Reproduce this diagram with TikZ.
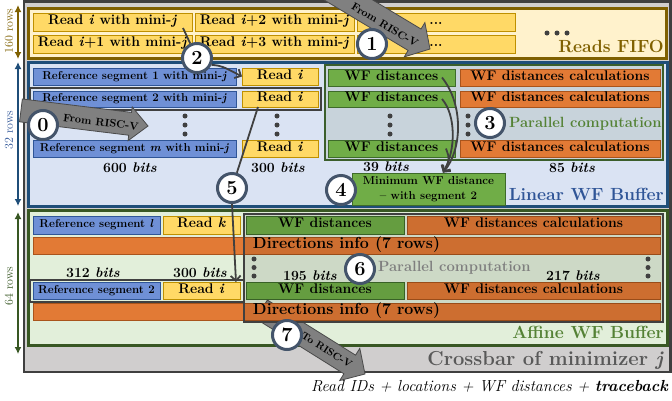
\documentclass[tikz,border=0pt]{standalone}
\usetikzlibrary{arrows.meta}
\definecolor{crossF}{HTML}{D0CECE}\definecolor{crossD}{HTML}{3F3F3F}
\definecolor{fifoF}{HTML}{FFF2CC}\definecolor{fifoD}{HTML}{7F6000}
\definecolor{linF}{HTML}{DAE3F3}\definecolor{linD}{HTML}{1F4E79}
\definecolor{affF}{HTML}{E2EFDA}\definecolor{affD}{HTML}{385723}
\definecolor{yelF}{HTML}{FFD966}\definecolor{yelD}{HTML}{BF9000}
\definecolor{refF}{HTML}{6F90D6}\definecolor{refD}{HTML}{2F5597}
\definecolor{grnF}{HTML}{70AD47}\definecolor{grnD}{HTML}{3E6B2A}
\definecolor{oraF}{HTML}{E27A35}\definecolor{oraD}{HTML}{A9541C}
\definecolor{parF}{HTML}{C8D3DB}\definecolor{parD}{HTML}{3B5E2B}
\definecolor{circD}{HTML}{44546A}\definecolor{hlD}{HTML}{404040}
\definecolor{arrF}{HTML}{808080}\definecolor{arrD}{HTML}{4A4A4A}
\definecolor{linT}{HTML}{2F5597}\definecolor{parT}{HTML}{548235}
\definecolor{grayT}{HTML}{7F7F7F}\definecolor{crossT}{HTML}{595959}
\newcommand\fz[1]{\fontsize{#1}{#1}\selectfont\bfseries}
\newcommand\fr[1]{\fontsize{#1}{#1}\selectfont}
\newcommand\ii[1]{\textit{#1}}
\newcommand\bx[7]{\node[#2, minimum width={#5-#3}, minimum height={#6-#4}] (#1) at ({(#3+#5)/2},{(#4+#6)/2}) {#7};}
\newcommand\blockarrow[7]{%
\begin{scope}[shift={(#1,#2)}, rotate=#3]
\filldraw[fill=arrF, draw=arrD, line width=0.8pt] (0,0) -- (-#7,#6) -- (-#7,#5) -- (-#4,#5) -- (-#4,-#5) -- (-#7,-#5) -- (-#7,-#6) -- cycle;
\end{scope}}
\tikzset{
  frame/.style={inner sep=0pt, line width=3pt},
  boxbase/.style={inner sep=0pt, outer sep=0pt, line width=0.8pt, text=black, text height=0.72em, text depth=0.22em},
  ybox/.style={boxbase, fill=yelF, draw=yelD, font=\fz{14}},
  rbox/.style={boxbase, fill=refF, draw=refD, font=\fz{11.5}},
  gbox/.style={boxbase, fill=grnF, draw=grnD, font=\fz{14}},
  obox/.style={boxbase, fill=oraF, draw=oraD, font=\fz{14}},
  dbox/.style={obox, font=\fz{16}},
  hl/.style={inner sep=0pt, draw=hlD, line width=2pt},
  num/.style={circle, fill=white, draw=circD, line width=3pt, minimum size=29pt, inner sep=0pt, font=\fz{20}},
  conn/.style={draw=hlD, line width=1.8pt},
  tipA/.style={-{Straight Barb[length=5pt,width=10pt]}},
  lbl/.style={inner sep=0pt, font=\fz{14}},
  big/.style={inner sep=0pt, font=\fz{17.6}},
  atext/.style={inner sep=0pt, font=\fz{10.8}},
  dim/.style={line width=1.6pt, {Latex[length=7pt,width=7pt]}-{Latex[length=7pt,width=7pt]}}
}
\begin{document}
\begin{tikzpicture}[x=1pt,y=-1pt]
\useasboundingbox (0,0) rectangle (672,400);
% crossbar
\bx{cross}{frame, line width=2.5pt, fill=crossF, draw=crossD}{24}{1.5}{670.5}{372}{}
% ---- Reads FIFO
\bx{fifo}{frame, fill=fifoF, draw=fifoD}{28}{8}{666}{58}{}
\bx{f1}{ybox}{33}{13}{192}{31}{Read \ii{i} with mini-\ii{j}}
\bx{f2}{ybox}{195}{13}{354}{31}{Read \ii{i}+2 with mini-\ii{j}}
\bx{f3}{ybox}{357}{13}{515}{31}{...}
\bx{f4}{ybox}{33}{35}{192}{53}{Read \ii{i}+1 with mini-\ii{j}}
\bx{f5}{ybox}{195}{35}{354}{53}{Read \ii{i}+3 with mini-\ii{j}}
\bx{f6}{ybox}{357}{35}{515}{53}{...}
\foreach \x in {547,557,567} \fill[hlD] (\x,33) circle[radius=2.5pt];
\node[big, anchor=base east, text=fifoD] (fifolbl) at (664,52) {Reads FIFO};
% ---- Linear WF buffer
\bx{lin}{frame, fill=linF, draw=linD}{28}{62}{667}{206}{}
\bx{par}{inner sep=0pt, fill=parF, draw=parD, line width=2pt}{325}{65}{663}{160}{}
\bx{rs1}{rbox}{33}{68}{236}{85}{Reference segment 1 with mini-\ii{j}}
\bx{rs2}{rbox}{33}{91}{236}{107}{Reference segment 2 with mini-\ii{j}}
\bx{rs3}{rbox}{33}{140}{236}{157}{Reference segment \ii{m} with mini-\ii{j}}
\bx{ri1}{ybox}{242}{68}{318}{85}{Read \ii{i}}
\bx{ri2}{ybox}{242}{91}{318}{107}{Read \ii{i}}
\bx{ri3}{ybox}{242}{140}{318}{157}{Read \ii{i}}
\bx{hl1}{hl}{29.5}{87.5}{321}{110}{}
\bx{wd1}{gbox}{328}{69}{455}{86}{WF distances}
\bx{wd2}{gbox}{328}{91}{455}{107}{WF distances}
\bx{wd3}{gbox}{328}{140}{455}{157}{WF distances}
\bx{wc1}{obox}{460}{69}{660}{86}{WF distances calculations}
\bx{wc2}{obox}{460}{91}{660}{107}{WF distances calculations}
\bx{wc3}{obox}{460}{140}{660}{157}{WF distances calculations}
\foreach \x in {185,277,390,468} \foreach \y in {116,125,134} \fill[hlD] (\x,\y) circle[radius=2.5pt];
\node[lbl, text=parT, anchor=west, font=\fz{14.8}] (parlbl) at (509,124) {Parallel computation};
\node[lbl] (b600) at (130,168) {600 \ii{bits}};
\node[lbl] (b300) at (278,168) {300 \ii{bits}};
\node[lbl] (b39) at (386,167) {39 \ii{bits}};
\node[lbl] (b85) at (572,168) {85 \ii{bits}};
\node[inner sep=0pt, fill=grnF, draw=grnD, line width=0.8pt, minimum width=153pt, minimum height=32pt, align=center, font=\fontsize{11.5}{14.5}\selectfont\bfseries] (minb) at (428.5,189) {Minimum WF distance\\-- with segment 2};
\node[big, anchor=base east, text=linT] (linlbl) at (664,200) {Linear WF Buffer};
% ---- Affine WF buffer
\bx{aff}{frame, fill=affF, draw=affD}{28}{210}{667}{345}{}
\bx{ars1}{rbox}{33}{216}{160}{234}{Reference segment \ii{l}}
\bx{ark}{ybox}{163}{216}{240}{234}{Read \ii{k}}
\bx{awd1}{gbox}{246}{216}{404}{234}{WF distances}
\bx{awc1}{obox}{407}{216}{660}{234}{WF distances calculations}
\bx{adir1}{dbox}{33}{237}{660}{254}{Directions info (7 rows)}
\bx{ars2}{rbox}{33}{282}{160}{299}{Reference segment 2}
\bx{ari2}{ybox}{163}{282}{240}{299}{Read \ii{i}}
\bx{awd2}{gbox}{246}{282}{404}{299}{WF distances}
\bx{awc2}{obox}{407}{282}{660}{299}{WF distances calculations}
% arrow 7 (tail hidden under the directions bar)
\blockarrow{365}{374}{-32}{122}{11}{19}{18}
\bx{adir2}{dbox}{33}{303}{660}{320}{Directions info (7 rows)}
\bx{agrp}{inner sep=0pt, draw=hlD, line width=2pt, fill=black, fill opacity=0.09}{244}{214}{663}{322}{}
\bx{hl2}{hl}{30}{279.5}{244}{302}{}
\foreach \x in {254,648} \foreach \y in {259,267.5,276} \fill[hlD] (\x,\y) circle[radius=2.5pt];
\node[lbl] (b312) at (93,273) {312 \ii{bits}};
\node[lbl] (b300b) at (200,273) {300 \ii{bits}};
\node[lbl] (b195) at (310,276) {195 \ii{bits}};
\node[lbl] (b217) at (573,276) {217 \ii{bits}};
\node[lbl, text=grayT, anchor=west, font=\fz{14.8}] (par2lbl) at (378,268) {Parallel computation};
\node[big, anchor=base east, text=parT] (afflbl) at (664,338) {Affine WF Buffer};
\node[inner sep=0pt, anchor=base east, text=crossT, font=\fz{20.2}] (crosslbl) at (664,365) {Crossbar of minimizer \ii{j}};
\node[inner sep=0pt, anchor=base east, font=\fr{16}\itshape] (outlbl) at (668,391) {Read IDs + locations + WF distances + \textbf{traceback}};
\node[atext, rotate=-32, font=\fz{10.2}] (t7) at (327,350) {To RISC-V};
% ---- arrows from RISC-V
\begin{scope}
\clip (0,0) rectangle (672,400);
\blockarrow{430}{49}{-31}{150}{12.5}{20}{18}
\end{scope}
\node[atext, rotate=-31] (t1) at (385,25) {From RISC-V};
\blockarrow{148}{126}{-7}{128}{11.5}{17}{18}
\node[atext, rotate=-7] (t0) at (101,122) {From RISC-V};
% ---- row dimension arrows
\coordinate (d1a) at (18,5); \coordinate (d1b) at (18,59);
\coordinate (d2a) at (18,62); \coordinate (d2b) at (18,206);
\coordinate (d3a) at (18,212); \coordinate (d3b) at (18,354);
\draw[dim, fifoD] (d1a) -- (d1b);
\draw[dim, linD] (d2a) -- (d2b);
\draw[dim, affD] (d3a) -- (d3b);
\node[rotate=90, inner sep=0pt, text=fifoD, font=\fr{12}] (r160) at (9,31) {160 rows};
\node[rotate=90, inner sep=0pt, text=linT, font=\fr{12}] (r32) at (9,130) {32 rows};
\node[rotate=90, inner sep=0pt, text=affD, font=\fr{12}] (r64) at (9,286) {64 rows};
% ---- circles
\node[num] (n0) at (43,125) {0};
\node[num] (n1) at (372,44) {1};
\node[num] (n2) at (197,58) {2};
\node[num] (n3) at (490,123) {3};
\node[num] (n4) at (341,190) {4};
\node[num] (n5) at (232,188) {5};
\node[num] (n6) at (360,269) {6};
\node[num] (n7) at (287,335) {7};
% ---- connectors
\coordinate (c2a) at (183,28);
\draw[conn] (c2a) -- (n2);
\draw[conn, tipA] (n2.-25) .. controls (222,66) .. (ri1.west);
\draw[conn] ([xshift=-22pt]ri2.south) -- (n5);
\draw[conn, tipA] (n5.south) -- ([xshift=-4pt]ari2.north east);
\coordinate (mt) at ([xshift=14.5pt]minb.north);
\draw[conn, tipA] ([xshift=-13pt]wd1.east) .. controls (464,105) and (462,150) .. (mt);
\draw[conn, tipA] ([xshift=-13pt]wd2.east) .. controls (456,115) and (456,150) .. (mt);
\draw[conn, tipA] ([xshift=-9pt]wd3.east) .. controls (450,160) .. (mt);
\end{tikzpicture}
\end{document}
